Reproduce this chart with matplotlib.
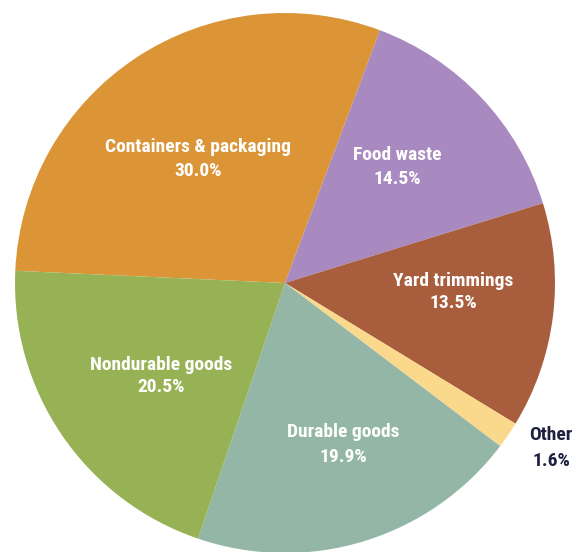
import matplotlib
matplotlib.use("Agg")
import matplotlib.pyplot as plt
from matplotlib import font_manager

categories = ["Containers & packaging", "Food waste", "Yard trimmings", "Other",
              "Durable goods", "Nondurable goods"]
values = [30.0, 14.5, 13.5, 1.6, 19.9, 20.5]
colors = ["#DB9537", "#A98AC0", "#A85D3D", "#FAD98C", "#93B6A6", "#97B255"]
text_colors = ["white", "white", "white", "#1F2040", "white", "white"]

# label centre positions in pixels (x, y of first line, y of second line)
label_px = [(198, 147, 171), (397, 155, 179), (453, 281, 303), (551, 435, 461),
            (343, 432, 457), (161, 365, 387)]

avail = {f.name for f in font_manager.fontManager.ttflist}
fam = [f for f in ["Liberation Sans Narrow", "DejaVu Sans Condensed", "Roboto Condensed",
                   "Open Sans Condensed"] if f in avail] + ["DejaVu Sans"]

W, H = 584, 552
fig = plt.figure(figsize=(W / 100, H / 100), dpi=100)
cx, cy, r = 285, 283, 270
ax = fig.add_axes([(cx - r) / W, (H - (cy + r)) / H, 2 * r / W, 2 * r / H])
ax.pie(values, colors=colors, startangle=177.4, counterclock=False, radius=1,
       wedgeprops=dict(linewidth=0))
ax.set_xlim(-1, 1)
ax.set_ylim(-1, 1)
ax.set_aspect("equal")
ax.axis("off")

for name, v, tc, (px, py1, py2) in zip(categories, values, text_colors, label_px):
    x = (px - (cx - r)) / (2 * r)
    for txt, py in ((name, py1), (f"{v:.1f}%", py2)):
        y = ((cy + r) - py) / (2 * r)
        ax.text(x, y, txt, transform=ax.transAxes, ha="center", va="center",
                color=tc, fontsize=14, fontweight="bold", family=fam)

fig.savefig("out.png", dpi=100)
